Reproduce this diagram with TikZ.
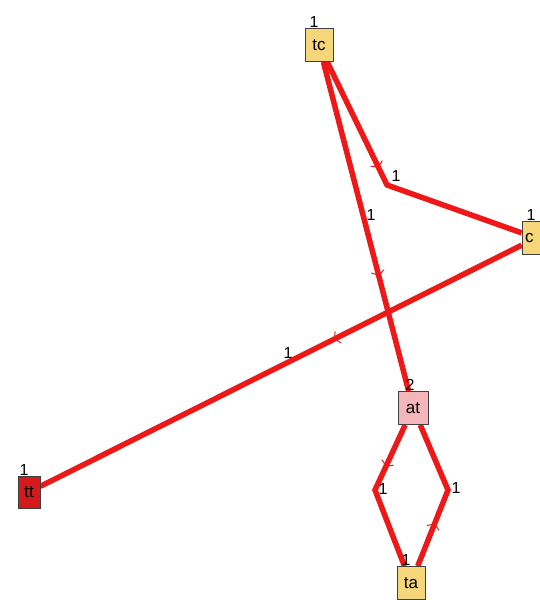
\documentclass[tikz,border=0pt]{standalone}
\usepackage{fontspec}
\setmainfont{Liberation Sans}
\usetikzlibrary{arrows.meta}
\usetikzlibrary{decorations.markings}
\usetikzlibrary{backgrounds}
\definecolor{edgered}{RGB}{238,24,24}
\definecolor{boxyellow}{RGB}{246,214,122}
\definecolor{boxpink}{RGB}{244,182,186}
\definecolor{boxred}{RGB}{212,26,26}

\begin{document}
\begin{tikzpicture}[x=1pt,y=-1pt,
  box/.style={draw=black!75, line width=0.8pt, minimum width=28pt, minimum height=33pt,
    inner sep=1pt, font=\fontsize{17}{17}\selectfont},
  count/.style={font=\fontsize{16}{16}\selectfont, inner sep=0pt, xshift=-5pt},
  link/.style={edgered, line width=5.5pt},
  midarrow/.style={postaction={decorate}, decoration={markings,
    mark=at position #1 with {\arrow[line width=1pt]{Straight Barb[length=4pt,width=13pt]}}}},
  num/.style={font=\fontsize{16}{16}\selectfont, inner sep=1pt}]

% frame
\useasboundingbox (0,0) rectangle (539,600);

% Nodes
\node[box, fill=boxyellow, label={[count]above:1}] (tc) at (319,45) {tc};
\node[box, fill=boxyellow, text width=22pt, inner xsep=3pt, align=left,
  label={[count]above:1}] (c) at (536,238) {c};
\node[box, fill=boxpink, minimum width=30pt, label={[count, xshift=2pt]above:2}] (at) at (413,408) {at};
\node[box, fill=boxred, minimum width=22pt, minimum height=32pt, label={[count]above:1}] (tt) at (29,492) {tt};
\node[box, fill=boxyellow, label={[count]above:1}] (ta) at (411,583) {ta};

% Bend points
\coordinate (tcbend) at (387,185);
\coordinate (leftbend) at (375,490);
\coordinate (rightbend) at (448,490);

% Edges (behind the boxes and counts)
\begin{scope}[on background layer]
\draw[link, midarrow=0.42] (tc) -- (tcbend) -- (c);
\draw[link, midarrow=0.65] (tc) -- (at);
\draw[link, midarrow=0.39] (c) -- (tt);
\draw[link, midarrow=0.3] (at) -- (leftbend) -- (ta);
\draw[link, midarrow=0.3] (ta) -- (rightbend) -- (at);
\end{scope}

% Edge weights
\node[num] (w1) at (396,176) {1};
\node[num] (w2) at (371,215) {1};
\node[num] (w3) at (288,353) {1};
\node[num] (w4) at (383,489) {1};
\node[num] (w5) at (456,488) {1};

\end{tikzpicture}
\end{document}
